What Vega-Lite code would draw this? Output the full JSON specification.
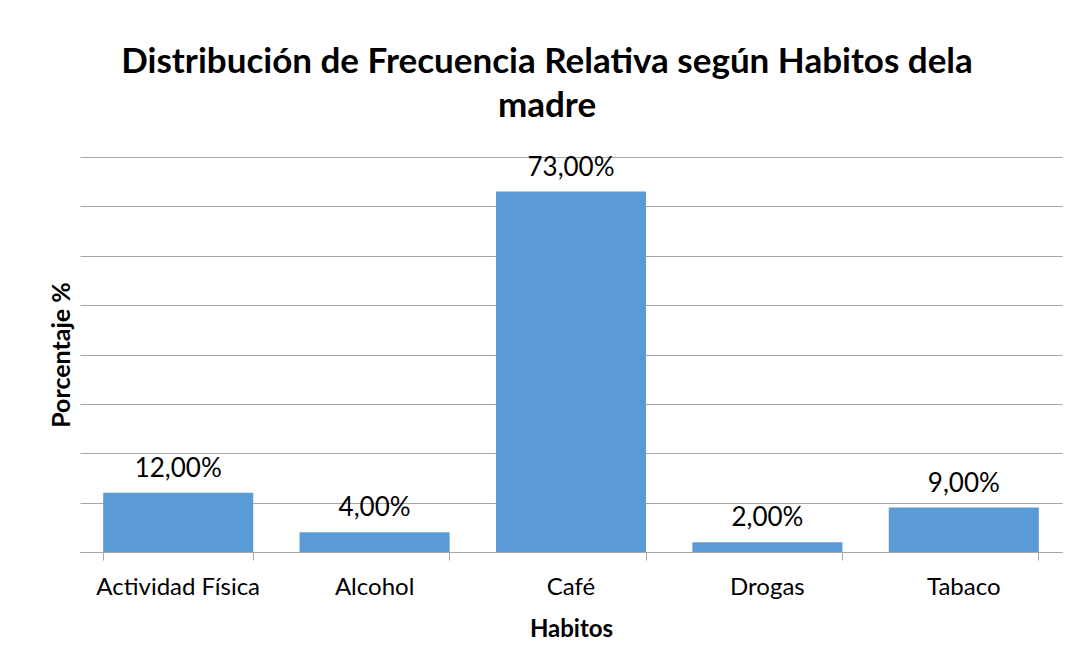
{
  "$schema": "https://vega.github.io/schema/vega-lite/v6.json",
  "autosize": "none",
  "width": 982,
  "height": 395,
  "padding": {"left": 80, "top": 157, "right": 16, "bottom": 114},
  "background": "white",
  "config": {
    "font": "Lato",
    "view": {"stroke": null},
    "axis": {"labelColor": "#000000", "titleColor": "#000000"}
  },
  "title": {
    "text": ["Distribución de Frecuencia Relativa según Habitos dela", "madre"],
    "fontSize": 35,
    "fontWeight": "bold",
    "color": "#000000",
    "lineHeight": 44,
    "anchor": "middle",
    "dx": -24,
    "offset": 31
  },
  "data": {
    "values": [
      {"habito": "Actividad Física", "porcentaje": 12, "etiqueta": "12,00%"},
      {"habito": "Alcohol", "porcentaje": 4, "etiqueta": "4,00%"},
      {"habito": "Café", "porcentaje": 73, "etiqueta": "73,00%"},
      {"habito": "Drogas", "porcentaje": 2, "etiqueta": "2,00%"},
      {"habito": "Tabaco", "porcentaje": 9, "etiqueta": "9,00%"}
    ]
  },
  "encoding": {
    "x": {
      "field": "habito",
      "type": "nominal",
      "sort": null,
      "scale": {"paddingInner": 0.236, "paddingOuter": 0.118},
      "axis": {
        "title": "Habitos",
        "titleFontSize": 24,
        "titleFontWeight": "bold",
        "titlePadding": 18,
        "labelFontSize": 24,
        "labelFontWeight": "normal",
        "labelAngle": 0,
        "labelPadding": 15,
        "bandPosition": 1,
        "tickExtra": true,
        "tickSize": 8,
        "tickColor": "#A6A6A6",
        "domainColor": "#A6A6A6",
        "domainWidth": 1.2,
        "grid": false
      }
    },
    "y": {
      "field": "porcentaje",
      "type": "quantitative",
      "scale": {"domain": [0, 80], "nice": false},
      "axis": {
        "title": "Porcentaje %",
        "titleFontSize": 25,
        "titleFontWeight": "bold",
        "titlePadding": 6,
        "values": [0, 10, 20, 30, 40, 50, 60, 70, 80],
        "labels": false,
        "ticks": false,
        "domain": false,
        "grid": true,
        "gridColor": "#A6A6A6",
        "gridWidth": 1.2
      }
    }
  },
  "layer": [
    {"mark": {"type": "bar", "color": "#5B9BD5"}},
    {
      "mark": {"type": "text", "baseline": "alphabetic", "dy": -16, "fontSize": 26, "color": "#000000"},
      "encoding": {"text": {"field": "etiqueta"}}
    }
  ]
}
